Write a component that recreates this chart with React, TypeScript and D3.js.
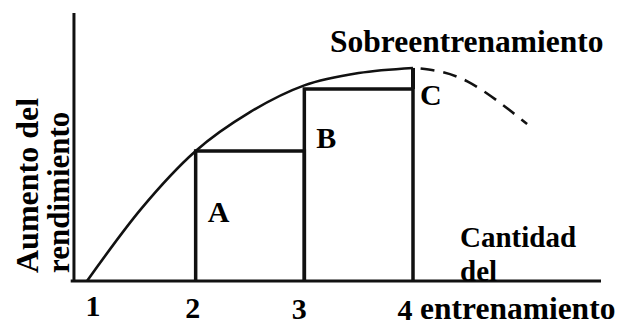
import React from "react";
import * as d3 from "d3";

// curve of performance gain vs training amount
const curveX = [1, 1.5, 2, 2.5, 3, 3.5, 4];
const curveY = [0, 27, 48.5, 63, 73, 77.6, 79.5];
// overtraining continuation (dashed)
const overX = [4.07, 4.5, 5.05];
const overY = [79.3, 74.5, 58.6];
// blocks A, B and the C step
const blockLabels = ["A", "B"];
const blockStart = [2, 3];
const blockEnd = [3, 4];
const blockTop = [48.5, 71.6];
const stepC = [71.6, 79.5];
const ticks = ["1", "2", "3", "4"];
const tickValues = [1, 2, 3, 4];
const xAxisExtent = [0.85, 5.73];
const yAxisAt = 0.88;
const yAxisTop = 100;

const width = 630;
const height = 327;
const font = "Liberation Serif, DejaVu Serif, Times New Roman, serif";

const App = () => {
  const x = d3.scaleLinear().domain([1, 4]).range([87, 413]);
  const y = d3.scaleLinear().domain([0, 100]).range([281, 13]);

  const line = d3
    .line<number>()
    .x((_, i) => x(curveX[i]))
    .y((d) => y(d))
    .curve(d3.curveMonotoneX);
  const dashed = d3
    .line<number>()
    .x((_, i) => x(overX[i]))
    .y((d) => y(d))
    .curve(d3.curveNatural);

  const tickDx = [6, -3, -5, -8];
  const tickY = [316, 318, 319, 320];
  const txt = { fontFamily: font, fontWeight: 700 };

  return (
    <svg
      width={width}
      height={height}
      style={{ position: "fixed", left: 0, top: 0, background: "#fff", fontFamily: font, fontWeight: 700 }}
    >
      {/* axes */}
      <line x1={x(xAxisExtent[0])} x2={x(xAxisExtent[1])} y1={y(0)} y2={y(0)} stroke="#111" strokeWidth={3} />
      <line x1={x(yAxisAt)} x2={x(yAxisAt)} y1={y(0)} y2={y(yAxisTop)} stroke="#111" strokeWidth={3} />

      {/* blocks */}
      {blockLabels.map((lab, i) => (
        <g key={lab}>
          <path
            d={`M${x(blockStart[i])},${y(0)}V${y(blockTop[i])}H${x(blockEnd[i])}V${y(0)}`}
            fill="none"
            stroke="#111"
            strokeWidth={3.5}
          />
          <text style={txt} x={x(blockStart[i]) + 12} y={y(0) - 59 - i * 74} fontSize={30}>
            {lab}
          </text>
        </g>
      ))}
      <line x1={x(4)} x2={x(4)} y1={y(stepC[0])} y2={y(stepC[1])} stroke="#111" strokeWidth={4} />
      <text style={txt} x={x(4) + 7} y={y(stepC[0]) + 16} fontSize={30}>C</text>

      {/* curves */}
      <path d={line(curveY) ?? ""} fill="none" stroke="#111" strokeWidth={2.6} />
      <path d={dashed(overY) ?? ""} fill="none" stroke="#111" strokeWidth={2.6} strokeDasharray="14,9" />

      {/* tick labels */}
      {tickValues.map((v, i) => (
        <text style={txt} key={v} x={x(v) + tickDx[i]} y={tickY[i]} fontSize={30} textAnchor="middle">
          {ticks[i]}
        </text>
      ))}

      {/* titles */}
      <text style={txt} x={330} y={52} fontSize={31.5}>Sobreentrenamiento</text>
      <text style={txt} x={460} y={247} fontSize={29}>Cantidad</text>
      <text style={txt} x={460} y={281} fontSize={29}>del</text>
      <text style={txt} x={420} y={319} fontSize={31.5}>entrenamiento</text>
      <g transform="rotate(-90)">
        <text style={txt} x={-273} y={38} fontSize={32}>Aumento del</text>
        <text style={txt} x={-273} y={69} fontSize={31}>rendimiento</text>
      </g>
    </svg>
  );
};

export default App;
